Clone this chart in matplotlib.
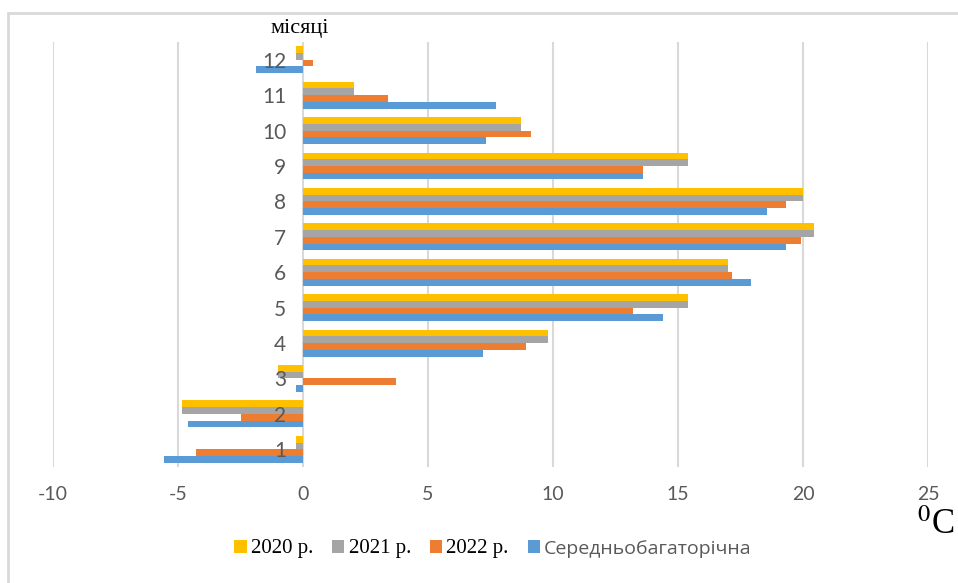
import numpy as np
import matplotlib
matplotlib.use("Agg")
import matplotlib.pyplot as plt
from matplotlib.patches import Rectangle

plt.rcParams["mathtext.fontset"] = "stix"
plt.rcParams["axes.unicode_minus"] = False

months = [1, 2, 3, 4, 5, 6, 7, 8, 9, 10, 11, 12]
t2020 = [-0.3, -4.85, -1.0, 9.8, 15.4, 17.0, 20.45, 20.0, 15.4, 8.7, 2.05, -0.3]
t2021 = [-0.3, -4.85, -1.0, 9.8, 15.4, 17.0, 20.45, 20.0, 15.4, 8.7, 2.05, -0.3]
t2022 = [-4.3, -2.5, 3.7, 8.9, 13.2, 17.15, 19.9, 19.3, 13.6, 9.1, 3.4, 0.4]
t_avg = [-5.55, -4.6, -0.3, 7.2, 14.4, 17.9, 19.3, 18.55, 13.6, 7.3, 7.7, -1.9]
labels = ["2020 р.", "2021 р.", "2022 р.", "Середньобагаторічна"]
colors = ["#FFC000", "#A5A5A5", "#ED7D31", "#5B9BD5"]

fig = plt.figure(figsize=(9.58, 5.83), dpi=100)
ax = fig.add_axes([53/958, 1-467/583, 875/958, 425/583])

# outer frame of the chart
fig.patches.append(Rectangle((8/958, -0.1), 1.1, 1 - 13/583 + 0.1, transform=fig.transFigure,
                             fill=False, edgecolor="#d9d9d9", linewidth=2))

y = np.array(months)
h = 0.19
series = [t2020, t2021, t2022, t_avg]
offsets = [1.5, 0.5, -0.5, -1.5]
for vals, off, c, lab in zip(series, offsets, colors, labels):
    ax.barh(y + off*h, vals, height=h, color=c, label=lab, zorder=2)

ax.set_xlim(-10, 25)
ax.set_ylim(0.5, 12.5)
ax.set_xticks(range(-10, 26, 5))
ax.set_yticks(months)
ax.set_yticklabels([str(m) for m in months])
ax.grid(axis="x", color="#d9d9d9", linewidth=1.5)
ax.xaxis.set_zorder(0.5)
ax.yaxis.set_zorder(5)  # month labels sit over the bars
for s in ["top", "right", "bottom"]:
    ax.spines[s].set_visible(False)
ax.spines["left"].set_position(("data", 0))
ax.spines["left"].set_color("none")
ax.tick_params(axis="y", length=0, pad=12, labelsize=15, labelcolor="#595959")
ax.tick_params(axis="x", length=0, pad=14, labelsize=14, labelcolor="#595959")
for t in ax.get_xticklabels() + ax.get_yticklabels():
    t.set_family(["Lato", "DejaVu Sans"])

fig.text(300/958, 1-28/583, "місяці", ha="center", va="center",
         family="Liberation Serif", fontsize=16)
fig.text(955/958, 1-526/583, r"$^{0}$C", ha="right", va="center",
         family="Liberation Serif", fontsize=25)

leg = fig.legend(loc="center", bbox_to_anchor=(493/958, 1-549/583), ncol=4,
                 frameon=False, handlelength=0.6, handleheight=0.6,
                 handletextpad=0.2, columnspacing=0.9, fontsize=15)
for i, t in enumerate(leg.get_texts()):
    if i < 3:
        t.set_family("Liberation Serif")
        t.set_color("black")
    else:
        t.set_family("Open Sans")
        t.set_color("#595959")
        t.set_fontsize(14)

fig.savefig("out.png", dpi=100)
